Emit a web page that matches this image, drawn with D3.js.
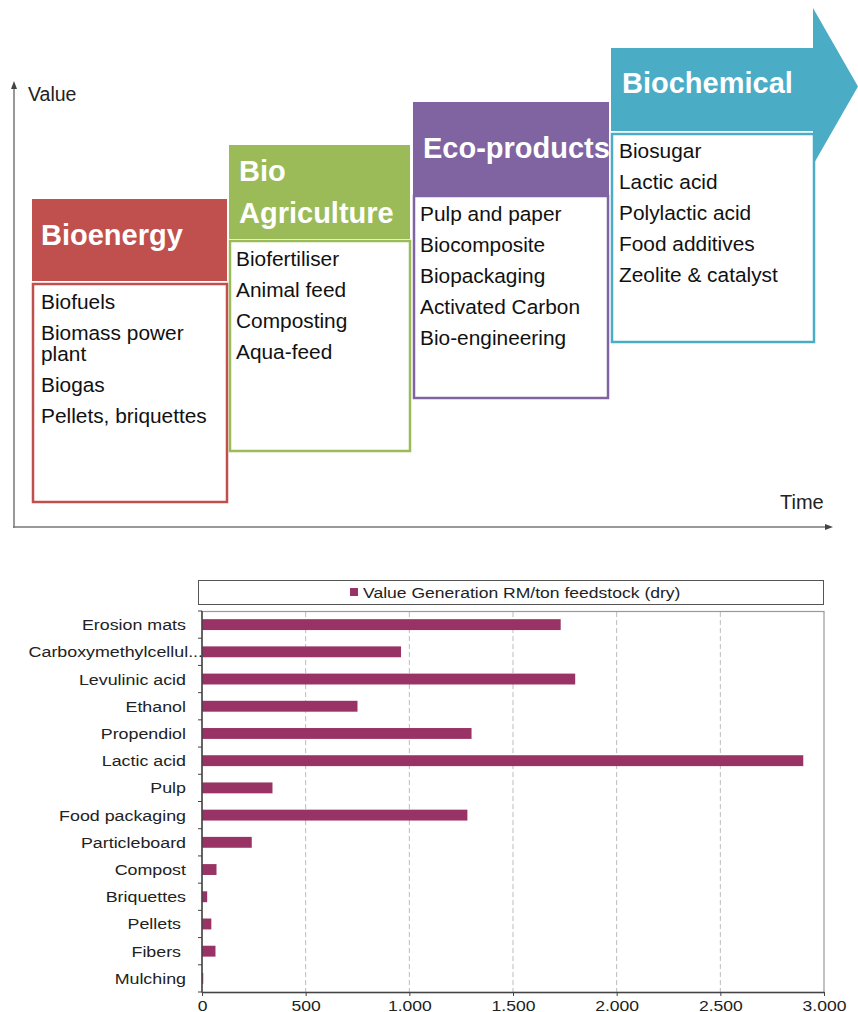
<!DOCTYPE html>
<html>
<head>
<meta charset="utf-8">
<script src="https://cdn.jsdelivr.net/npm/d3@7/dist/d3.min.js"></script>
<style>
  html, body { margin: 0; padding: 0; background: #fff; }
  svg { display: block; font-family: "Liberation Sans", Arial, sans-serif; }
</style>
</head>
<body>
<div id="chart"></div>
<script>
// ---------- DATA ----------
const stageNames = [["Bioenergy"], ["Bio", "Agriculture"], ["Eco-products"], ["Biochemical"]];
const stageItems = [
  [["Biofuels"], ["Biomass power", "plant"], ["Biogas"], ["Pellets, briquettes"]],
  [["Biofertiliser"], ["Animal feed"], ["Composting"], ["Aqua-feed"]],
  [["Pulp and paper"], ["Biocomposite"], ["Biopackaging"], ["Activated Carbon"], ["Bio-engineering"]],
  [["Biosugar"], ["Lactic acid"], ["Polylactic acid"], ["Food additives"], ["Zeolite & catalyst"]]
];
const axisLabels = ["Value", "Time"];

const categories = ["Erosion mats", "Carboxymethylcellul...", "Levulinic acid", "Ethanol", "Propendiol",
  "Lactic acid", "Pulp", "Food packaging", "Particleboard", "Compost", "Briquettes", "Pellets ",
  "Fibers ", "Mulching"];
const values = [1730, 960, 1800, 750, 1300, 2900, 340, 1280, 240, 70, 25, 45, 65, 6];
const xTicks = [0, 500, 1000, 1500, 2000, 2500, 3000];
const xTickLabels = ["0", "500", "1.000", "1.500", "2.000", "2.500", "3.000"];
const seriesName = "Value Generation RM/ton feedstock (dry)";

// ---------- LAYOUT ----------
const W = 858, H = 1012;
const svg = d3.select("#chart").append("svg").attr("width", W).attr("height", H);

const stageColors = ["#C0504D", "#9BBB59", "#8064A2", "#4BACC6"];
// header [x0,x1,y0,y1], body [x0,x1,y0,y1]
const stageLayout = [
  { head: [32, 227, 199, 281], body: [33, 227, 284, 502], tx: 41, tBase: [245], ix: 41 },
  { head: [229, 410, 145, 239], body: [230, 410, 241, 451], tx: 239, tBase: [181, 223], ix: 236 },
  { head: [413, 609, 102, 195], body: [414, 608, 196, 398], tx: 423, tBase: [158], ix: 420 },
  { head: [611, 813, 48, 131], body: [612, 814, 134, 342], tx: 622, tBase: [93], ix: 619 }
];
const itemFirst = [309, 266, 221, 158];
const itemStep = 31, wrapStep = 21;
const tsx = 1.07;

// ---------- TOP DIAGRAM ----------
const topG = svg.append("g");
const axisCol = "#777";
topG.append("line").attr("x1", 14).attr("x2", 14).attr("y1", 86).attr("y2", 528)
  .attr("stroke", axisCol).attr("stroke-width", 1.5);
topG.append("path").attr("d", "M14,81 L11,89 L17,89 Z").attr("fill", "#444");
topG.append("line").attr("x1", 13).attr("x2", 828).attr("y1", 527).attr("y2", 527)
  .attr("stroke", axisCol).attr("stroke-width", 1.5);
topG.append("path").attr("d", "M833,527 L825,524 L825,530 Z").attr("fill", "#444");
topG.append("text").attr("x", 28).attr("y", 101).attr("font-size", 19.5).attr("fill", "#222").text(axisLabels[0]);
topG.append("text").attr("x", 780).attr("y", 509).attr("font-size", 20).attr("fill", "#222").text(axisLabels[1]);

// arrow for the last stage
{
  const L = stageLayout[3];
  const ax0 = L.head[0], ax1 = L.head[1];
  const cy = 86.5;
  topG.append("path")
    .attr("d", `M${ax0},${L.head[2]} L${ax1},${L.head[2]} L${ax1},8 L858,${cy} L${ax1},165 L${ax1},${L.head[3]} L${ax0},${L.head[3]} Z`)
    .attr("fill", stageColors[3]);
}

stageNames.forEach((name, i) => {
  const L = stageLayout[i];
  const c = stageColors[i];
  if (i < 3) {
    topG.append("rect").attr("x", L.head[0]).attr("y", L.head[2])
      .attr("width", L.head[1] - L.head[0]).attr("height", L.head[3] - L.head[2]).attr("fill", c);
  }
  topG.append("rect").attr("x", L.body[0]).attr("y", L.body[2])
    .attr("width", L.body[1] - L.body[0]).attr("height", L.body[3] - L.body[2])
    .attr("fill", "#fff").attr("stroke", c).attr("stroke-width", 2.5);
  name.forEach((line, j) => {
    topG.append("text").attr("x", L.tx).attr("y", L.tBase[j])
      .attr("font-size", 29).attr("font-weight", "bold").attr("fill", "#fff").text(line);
  });
  let yy = itemFirst[i];
  stageItems[i].forEach(item => {
    item.forEach((line, j) => {
      topG.append("text").attr("transform", `translate(${L.ix},${yy}) scale(${tsx},1)`)
        .attr("font-size", 19.5).attr("fill", "#111").text(line);
      yy += (j < item.length - 1) ? wrapStep : 0;
    });
    yy += itemStep;
  });
});

// ---------- BAR CHART ----------
const plot = { left: 202, right: 824, top: 611, bottom: 992 };
const sx = 1.19; // horizontal stretch of text in the reference
const x = d3.scaleLinear().domain([0, 3000]).range([plot.left, plot.right]);
const y = d3.scaleBand().domain(categories).range([plot.top, plot.bottom]).paddingInner(0.6).paddingOuter(0.3);
const barCol = "#993366";
const bc = svg.append("g");

// legend
bc.append("rect").attr("x", 198.5).attr("y", 580.5).attr("width", 625).attr("height", 24)
  .attr("fill", "#fff").attr("stroke", "#555").attr("stroke-width", 1);
bc.append("rect").attr("x", 350).attr("y", 588).attr("width", 8).attr("height", 8).attr("fill", barCol);
bc.append("text").attr("transform", `translate(363,597.5) scale(1.17,1)`)
  .attr("font-size", 15).attr("fill", "#222").text(seriesName);

// plot frame
bc.append("rect").attr("x", plot.left).attr("y", plot.top + 0.5)
  .attr("width", plot.right - plot.left).attr("height", plot.bottom - plot.top)
  .attr("fill", "none").attr("stroke", "#999").attr("stroke-width", 1.2);

// gridlines
bc.append("g").selectAll("line").data(xTicks.filter(t => t > 0 && t < 3000)).join("line")
  .attr("x1", d => x(d)).attr("x2", d => x(d)).attr("y1", plot.top + 1).attr("y2", plot.bottom)
  .attr("stroke", "#bbb").attr("stroke-width", 1).attr("stroke-dasharray", "5,3");

// y labels (drawn before bars/axis so the axis covers overflowing text)
bc.append("g").selectAll("text").data(categories).join("text")
  .attr("transform", d => `translate(${d.endsWith("...") ? 203 : 186},${y(d) + y.bandwidth() / 2 + 5.5}) scale(${sx},1)`)
  .attr("text-anchor", "end").attr("font-size", 15).attr("fill", "#222")
  .style("white-space", "pre").text(d => d);

// bars
bc.append("g").selectAll("rect").data(values).join("rect")
  .attr("x", x(0)).attr("y", (d, i) => y(categories[i]))
  .attr("width", d => x(d) - x(0)).attr("height", y.bandwidth())
  .attr("fill", barCol);

// x axis
const xAxis = d3.axisBottom(x).tickValues(xTicks).tickFormat((d, i) => xTickLabels[i]).tickSize(4).tickSizeOuter(0);
const gx = bc.append("g").attr("transform", `translate(0,${plot.bottom})`).call(xAxis);
gx.select(".domain").attr("stroke", "#444").attr("stroke-width", 1.5);
gx.selectAll(".tick line").attr("stroke", "#444");
gx.selectAll(".tick text").attr("font-size", 15).attr("fill", "#222")
  .attr("font-family", "'Liberation Sans', Arial, sans-serif")
  .attr("y", 0).attr("dy", 0)
  .attr("transform", `translate(0,18.5) scale(1.17,1)`);

// y axis
const gy = bc.append("g");
gy.append("line").attr("x1", plot.left).attr("x2", plot.left).attr("y1", plot.top).attr("y2", plot.bottom)
  .attr("stroke", "#444").attr("stroke-width", 1.5);
const step = y.step();
gy.selectAll("line.tk").data(d3.range(categories.length + 1)).join("line").attr("class", "tk")
  .attr("x1", plot.left - 4).attr("x2", plot.left)
  .attr("y1", i => plot.top + i * step).attr("y2", i => plot.top + i * step)
  .attr("stroke", "#444");
</script>
</body>
</html>
